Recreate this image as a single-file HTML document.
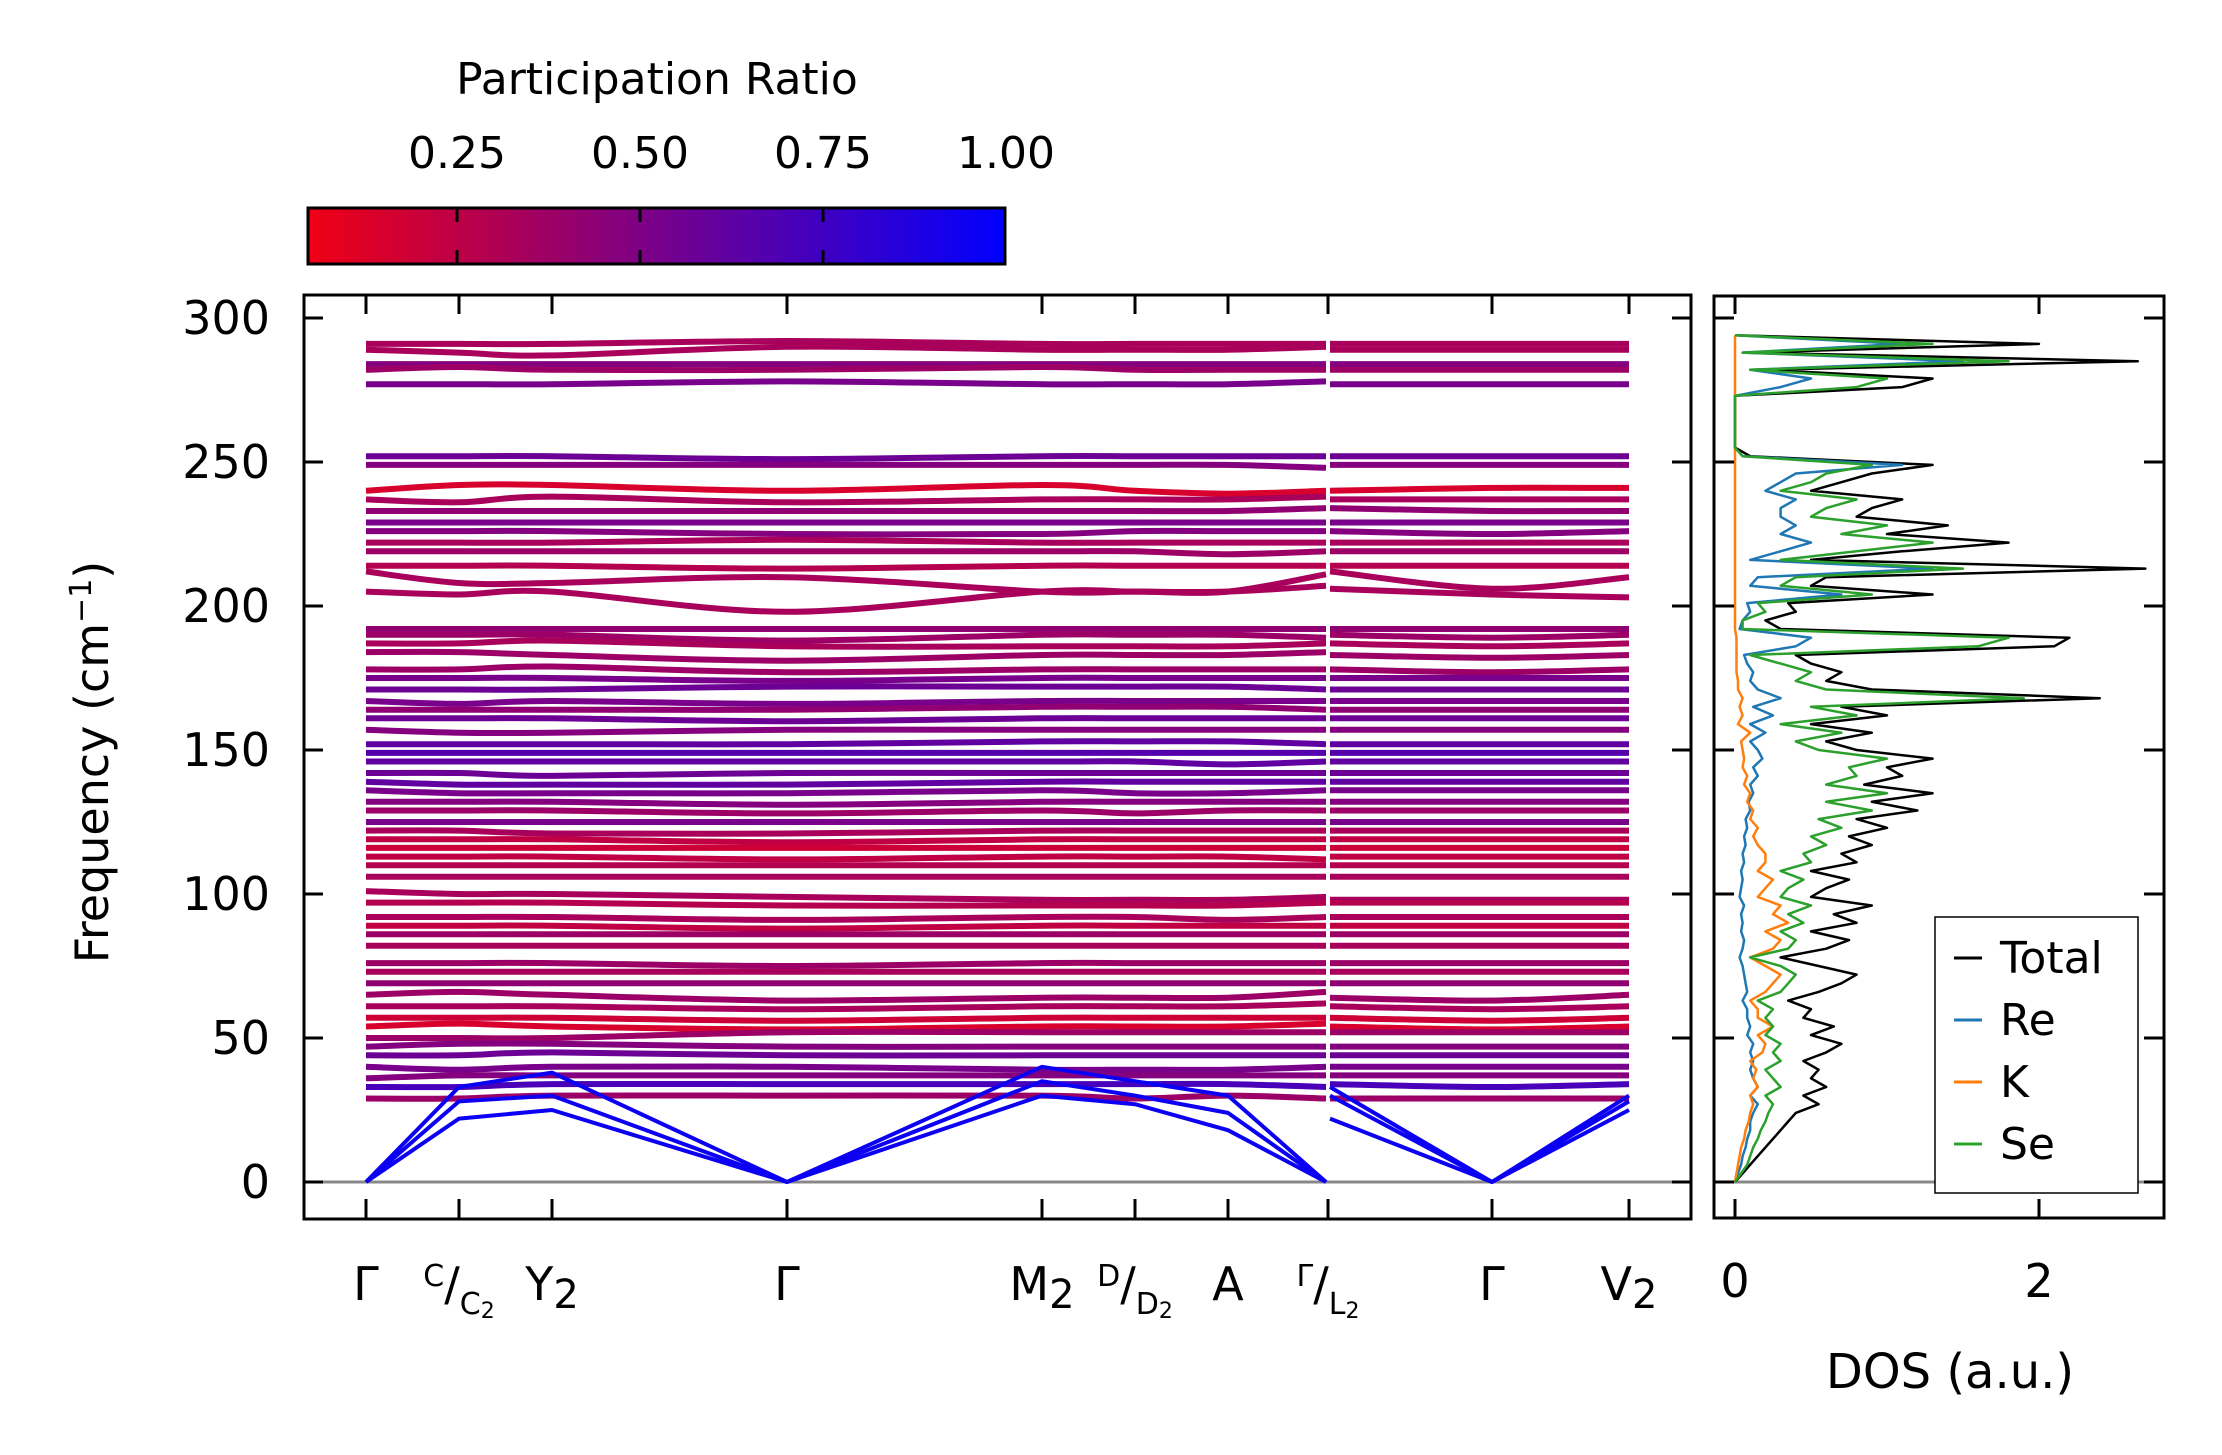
<!DOCTYPE html>
<html><head><meta charset="utf-8"><style>
html,body{margin:0;padding:0;background:#fff;}
svg{display:block;font-family:"DejaVu Sans","Liberation Sans",sans-serif;}
</style></head><body>
<svg id="chart" width="2222" height="1455" viewBox="0 0 2222 1455" xmlns="http://www.w3.org/2000/svg">
<defs>
<linearGradient id="cbgrad" x1="0" x2="1" y1="0" y2="0">
<stop offset="0" stop-color="rgb(240,0,20)"/>
<stop offset="1" stop-color="rgb(0,0,255)"/>
</linearGradient>
<clipPath id="bandclip"><rect x="304" y="295" width="1387" height="923"/></clipPath>
<clipPath id="dosclip"><rect x="1715" y="297" width="448" height="920"/></clipPath>
</defs>
<g id="colorbar">
<text x="657" y="94" font-size="44" text-anchor="middle">Participation Ratio</text>
<rect x="308" y="208" width="697" height="56" fill="url(#cbgrad)" stroke="#000" stroke-width="3"/>
<g id="cbticks"></g>
</g>
<g id="bandplot">
<line x1="304" x2="1691" y1="1182" y2="1182" stroke="#888" stroke-width="3"/>
<g id="bands" clip-path="url(#bandclip)"></g>
<rect x="304" y="295" width="1387" height="924" fill="none" stroke="#000" stroke-width="3"/>
<g id="bandaxes"></g>
<text transform="translate(108,762) rotate(-90)" font-size="46" text-anchor="middle">Frequency (cm<tspan baseline-shift="super" font-size="30">−1</tspan>)</text>
</g>
<g id="dosplot">
<line x1="1715" x2="2163" y1="1182" y2="1182" stroke="#888" stroke-width="3"/>
<g id="dos" clip-path="url(#dosclip)"></g>
<rect x="1714" y="296" width="450" height="922" fill="none" stroke="#000" stroke-width="3"/>
<g id="dosaxes"></g>
<text x="1950" y="1388" font-size="48" text-anchor="middle">DOS (a.u.)</text>
<g>
<rect x="1935" y="917" width="203" height="276" fill="#fff" stroke="#000" stroke-width="1.5"/>
<g id="legend"></g>
</g>
</g>
</svg>
<script>
const NS="http://www.w3.org/2000/svg";
const kSeg1=[0,93,186,421,676,769,862,960];
const kSeg2=[964,1126,1263];
const kLabels=["Γ","C/C2","Y2","Γ","M2","D/D2","A","Γ/L2","Γ","V2"];
const kLabelPos=[0,93,186,421,676,769,862,962,1126,1263];
const yTicks=[0,50,100,150,200,250,300];
const cbTicks=[0.25,0.5,0.75,1.0];
const bandFreqs=[
[291,291,291,292,291,291,291,291,291,291,291],
[289,288,287,290,289,289,289,290,289,289,289],
[284,284,284,284,284,284,284,284,284,284,284],
[282,283,282,282,283,282,282,282,282,282,282],
[277,277,277,278,277,277,277,278,277,277,277],
[252,252,252,251,252,252,252,252,252,252,252],
[249,249,249,249,249,249,249,248,249,249,249],
[240,242,242,240,242,240,239,240,240,241,241],
[237,236,238,236,237,237,237,238,237,237,237],
[233,233,233,233,233,233,233,234,234,233,233],
[229,229,229,229,229,229,229,229,229,229,229],
[226,226,226,225,225,226,226,226,226,225,226],
[222,222,222,223,222,222,222,222,222,222,222],
[219,219,219,219,219,219,218,219,219,219,219],
[214,214,214,213,214,214,214,214,214,214,214],
[212,208,208,210,205,205,205,211,212,206,210],
[205,204,205,198,205,205,205,207,206,204,203],
[192,192,192,192,192,192,192,192,192,192,192],
[190,190,190,188,190,190,190,189,190,189,190],
[187,187,188,186,186,186,186,187,187,186,187],
[184,184,183,181,183,183,183,184,183,182,183],
[178,178,179,177,178,178,178,178,178,177,178],
[175,175,175,174,175,175,175,175,175,175,175],
[171,171,171,172,172,172,172,171,171,171,171],
[167,166,167,166,167,167,167,167,167,167,167],
[164,164,164,164,165,165,165,164,164,164,164],
[161,161,161,160,161,161,161,161,161,161,161],
[157,156,156,157,157,157,157,157,157,157,157],
[152,152,152,152,153,153,153,152,152,152,152],
[149,149,149,149,149,149,149,149,149,149,149],
[146,146,146,146,146,146,145,146,146,146,146],
[142,142,141,142,142,142,142,142,142,142,142],
[139,138,138,138,139,139,139,139,139,139,139],
[136,135,135,135,136,135,135,136,136,136,136],
[132,132,132,131,132,132,132,132,132,132,132],
[129,129,129,128,129,128,129,129,129,129,129],
[125,125,125,125,125,125,125,125,125,125,125],
[122,122,121,121,122,122,122,122,122,122,122],
[119,119,119,118,119,119,119,119,119,119,119],
[116,116,116,116,116,116,116,116,116,116,116],
[113,113,113,112,113,113,113,112,113,113,113],
[110,110,110,110,110,110,110,110,110,110,110],
[106,106,106,106,106,106,106,106,106,106,106],
[101,100,100,99,98,98,98,99,98,98,98],
[97,97,97,96,96,96,96,97,97,97,97],
[92,92,92,91,92,92,91,92,92,92,92],
[89,89,89,88,89,89,89,89,89,89,89],
[86,86,86,86,86,86,86,86,86,86,86],
[82,82,82,82,82,82,82,82,82,82,82],
[76,76,76,75,76,76,76,76,76,76,76],
[73,73,73,73,73,73,73,73,73,73,73],
[69,69,69,69,69,69,69,69,69,69,69],
[65,66,65,63,64,64,64,66,64,63,65],
[61,61,61,60,61,61,61,62,61,60,61],
[57,57,57,56,57,57,57,57,57,56,57],
[54,55,54,53,54,54,54,55,54,53,54],
[50,50,50,52,52,52,52,52,52,52,52],
[47,48,48,47,47,47,47,47,47,47,47],
[44,44,45,44,44,44,44,44,44,44,44],
[40,39,40,40,39,39,39,40,40,40,40],
[36,37,37,37,37,37,37,37,37,37,37],
[33,33,34,34,34,34,34,33,34,33,34],
[29,29,30,30,30,29,30,29,29,29,29],
[0,22,25,0,30,27,18,0,30,0,28],
[0,28,30,0,35,30,24,0,33,0,30],
[0,33,38,0,40,35,30,0,22,0,25]
];
const bandPR=[0.3,0.3,0.45,0.35,0.5,0.55,0.45,0.1,0.3,0.4,0.5,0.45,0.3,0.35,0.25,0.3,0.3,0.4,0.35,0.3,0.35,0.35,0.5,0.55,0.5,0.4,0.55,0.45,0.6,0.65,0.6,0.55,0.6,0.5,0.45,0.35,0.5,0.3,0.2,0.15,0.2,0.25,0.3,0.3,0.25,0.3,0.2,0.35,0.3,0.35,0.3,0.4,0.35,0.3,0.15,0.1,0.35,0.45,0.55,0.5,0.45,0.7,0.35,0.95,0.95,0.95];
const dosFreq=[];for(let i=0;i<=98;i++)dosFreq.push(i*3);
const dosTotal=[0,0.05,0.1,0.15,0.2,0.25,0.3,0.35,0.4,0.55,0.45,0.6,0.5,0.55,0.45,0.6,0.7,0.5,0.65,0.45,0.5,0.35,0.55,0.7,0.8,0.55,0.3,0.6,0.75,0.5,0.8,0.65,0.9,0.5,0.6,0.75,0.5,0.8,0.7,0.9,0.75,1.0,0.8,1.2,0.9,1.3,0.85,1.1,1.0,1.3,0.8,0.6,0.9,0.5,1.0,0.7,2.4,0.9,0.6,0.7,0.5,0.4,2.1,2.2,0.3,0.2,0.4,0.35,1.3,0.5,0.6,2.7,0.5,1.1,1.8,1.0,1.4,0.8,0.9,1.1,0.5,0.7,0.9,1.3,0.1,0,0,0,0,0,0,0,1.1,1.3,0.2,2.65,0.1,2.0,0];
const dosRe=[0,0.02,0.04,0.05,0.07,0.08,0.1,0.1,0.12,0.15,0.1,0.15,0.12,0.1,0.12,0.1,0.12,0.08,0.1,0.08,0.08,0.05,0.08,0.07,0.06,0.05,0.03,0.05,0.06,0.04,0.05,0.04,0.06,0.03,0.04,0.05,0.04,0.06,0.05,0.07,0.06,0.08,0.07,0.1,0.09,0.12,0.1,0.15,0.12,0.18,0.15,0.1,0.2,0.1,0.25,0.12,0.3,0.15,0.1,0.12,0.08,0.06,0.4,0.5,0.03,0.05,0.1,0.08,0.7,0.1,0.15,1.3,0.1,0.3,0.5,0.3,0.4,0.3,0.3,0.4,0.2,0.3,0.4,1.1,0.05,0,0,0,0,0,0,0,0.3,0.5,0.1,1.5,0.05,1.1,0];
const dosK=[0,0.01,0.02,0.03,0.04,0.06,0.07,0.09,0.1,0.12,0.1,0.15,0.12,0.14,0.1,0.18,0.2,0.15,0.25,0.15,0.15,0.1,0.2,0.25,0.3,0.2,0.1,0.25,0.3,0.2,0.35,0.25,0.3,0.15,0.2,0.25,0.15,0.2,0.2,0.15,0.12,0.15,0.1,0.12,0.08,0.1,0.06,0.08,0.05,0.06,0.05,0.04,0.1,0.02,0.05,0.03,0.05,0.02,0.02,0.01,0.01,0.01,0.01,0.01,0,0,0,0,0,0,0,0,0,0,0,0,0,0,0,0,0,0,0,0,0,0,0,0,0,0,0,0,0,0,0,0,0,0,0];
const dosSe=[0,0.04,0.08,0.1,0.12,0.15,0.17,0.2,0.22,0.25,0.2,0.3,0.25,0.2,0.3,0.25,0.3,0.2,0.25,0.2,0.25,0.15,0.3,0.35,0.4,0.3,0.1,0.35,0.4,0.3,0.45,0.35,0.5,0.3,0.35,0.45,0.3,0.5,0.45,0.6,0.5,0.7,0.55,0.9,0.6,1.0,0.6,0.8,0.75,1.0,0.55,0.4,0.7,0.3,0.8,0.5,1.9,0.6,0.4,0.5,0.3,0.1,1.6,1.8,0.05,0.05,0.2,0.15,0.9,0.3,0.4,1.5,0.3,0.8,1.3,0.7,1.0,0.5,0.6,0.8,0.3,0.5,0.6,0.9,0.05,0,0,0,0,0,0,0,0.8,1.0,0.1,1.8,0.05,1.3,0];
const dosSeries=[["Total",dosTotal,"#000000"],["Re",dosRe,"#1f77b4"],["K",dosK,"#ff7f0e"],["Se",dosSe,"#2ca02c"]];

const yS=f=>1182-f*2.88;
const xK=k=>366+k*(1629-366)/1263;
const xD=v=>1735+v*152;
const xCB=p=>1006-(1-p)*732;
function prColor(p){const r=Math.round(240*(1-p)),b=Math.round(20+235*p);return `rgb(${r},0,${b})`;}
function mk(tag,attrs,parent){const e=document.createElementNS(NS,tag);for(const k in attrs)e.setAttribute(k,attrs[k]);parent.appendChild(e);return e;}
function crPath(pts){
  let d=`M${pts[0][0].toFixed(1)},${pts[0][1].toFixed(1)}`;
  for(let i=0;i<pts.length-1;i++){
    const p0=pts[Math.max(0,i-1)],p1=pts[i],p2=pts[i+1],p3=pts[Math.min(pts.length-1,i+2)];
    const c1=[p1[0]+(p2[0]-p0[0])/6,p1[1]+(p2[1]-p0[1])/6];
    const c2=[p2[0]-(p3[0]-p1[0])/6,p2[1]-(p3[1]-p1[1])/6];
    d+=`C${c1[0].toFixed(1)},${c1[1].toFixed(1)} ${c2[0].toFixed(1)},${c2[1].toFixed(1)} ${p2[0].toFixed(1)},${p2[1].toFixed(1)}`;
  }
  return d;
}
function linPath(pts){return 'M'+pts.map(p=>p[0].toFixed(1)+','+p[1].toFixed(1)).join(' L');}
const gB=document.getElementById('bands');
bandFreqs.forEach((b,i)=>{
  const col=prColor(bandPR[i]);
  const acoustic=bandPR[i]>0.9;
  const w=acoustic?4:6;
  const s1=kSeg1.map((k,j)=>[xK(k),yS(b[j])]);
  const s2=kSeg2.map((k,j)=>[xK(k),yS(b[8+j])]);
  [s1,s2].forEach(pts=>{
    const p=mk('path',{d:acoustic?linPath(pts):crPath(pts),fill:'none',stroke:col,'stroke-width':w,'stroke-linejoin':'round'},gB);
    
    
  });
});
const gA=document.getElementById('bandaxes');
yTicks.forEach(t=>{
  const y=yS(t);
  mk('line',{x1:304,x2:323,y1:y,y2:y,stroke:'#000','stroke-width':3},gA);
  mk('line',{x1:1672,x2:1691,y1:y,y2:y,stroke:'#000','stroke-width':3},gA);
  const tx=mk('text',{x:270,y:y+16,'font-size':46,'text-anchor':'end'},gA);
  tx.textContent=t;
  
  
});
kLabelPos.forEach((k,i)=>{
  const x=xK(k);
  mk('line',{x1:x,x2:x,y1:1219,y2:1199,stroke:'#000','stroke-width':3},gA);
  mk('line',{x1:x,x2:x,y1:295,y2:314,stroke:'#000','stroke-width':3},gA);
  const lab=kLabels[i];
  const t=mk('text',{x:x,y:1300,'font-size':46,'text-anchor':'middle'},gA);
  
  
  if(lab.includes('/')){
    const [a,b]=lab.split('/');
    const s1=mk('tspan',{'font-size':30,dy:-14},t);s1.textContent=a;
    const s2=mk('tspan',{dy:14},t);s2.textContent='/';
    const s3=mk('tspan',{'font-size':30,dy:14},t);s3.textContent=b[0];
    const s4=mk('tspan',{'font-size':22,dy:4},t);s4.textContent=b.slice(1);
  }else if(lab.endsWith('2')){
    const s1=mk('tspan',{},t);s1.textContent=lab.slice(0,-1);
    const s2=mk('tspan',{dy:8,'font-size':40},t);s2.textContent='2';
  }else{t.textContent=lab;}
});
const gC=document.getElementById('cbticks');
cbTicks.forEach(p=>{
  const x=xCB(p);
  if(p<1){
    mk('line',{x1:x,x2:x,y1:208,y2:222,stroke:'#000','stroke-width':3},gC);
    mk('line',{x1:x,x2:x,y1:250,y2:264,stroke:'#000','stroke-width':3},gC);
  }
  const t=mk('text',{x:x,y:168,'font-size':44,'text-anchor':'middle'},gC);
  t.textContent=p.toFixed(2);
  
  
});
const gD=document.getElementById('dos');
dosSeries.forEach(([name,vals,col])=>{
  const pts=vals.map((v,i)=>`${xD(v).toFixed(1)},${yS(dosFreq[i]).toFixed(1)}`).join(' ');
  const pl=mk('polyline',{points:pts,fill:'none',stroke:col,'stroke-width':2.5,'stroke-linejoin':'round'},gD);
  
  
});
const gDA=document.getElementById('dosaxes');
yTicks.forEach(t=>{
  const y=yS(t);
  mk('line',{x1:1714,x2:1734,y1:y,y2:y,stroke:'#000','stroke-width':3},gDA);
  mk('line',{x1:2144,x2:2164,y1:y,y2:y,stroke:'#000','stroke-width':3},gDA);
});
[0,2].forEach(v=>{
  const x=xD(v);
  mk('line',{x1:x,x2:x,y1:1218,y2:1199,stroke:'#000','stroke-width':3},gDA);
  mk('line',{x1:x,x2:x,y1:296,y2:314,stroke:'#000','stroke-width':3},gDA);
  const t=mk('text',{x:x,y:1297,'font-size':46,'text-anchor':'middle'},gDA);
  t.textContent=v;
  
  
});
const gL=document.getElementById('legend');
dosSeries.forEach(([name,vals,col],i)=>{
  const y=958+i*62;
  const l=mk('line',{x1:1954,x2:1982,y1:y,y2:y,stroke:col,'stroke-width':3},gL);
  
  
  const t=mk('text',{x:2000,y:y+15,'font-size':44},gL);
  t.textContent=name;
  
  
});
</script>
</body></html>
